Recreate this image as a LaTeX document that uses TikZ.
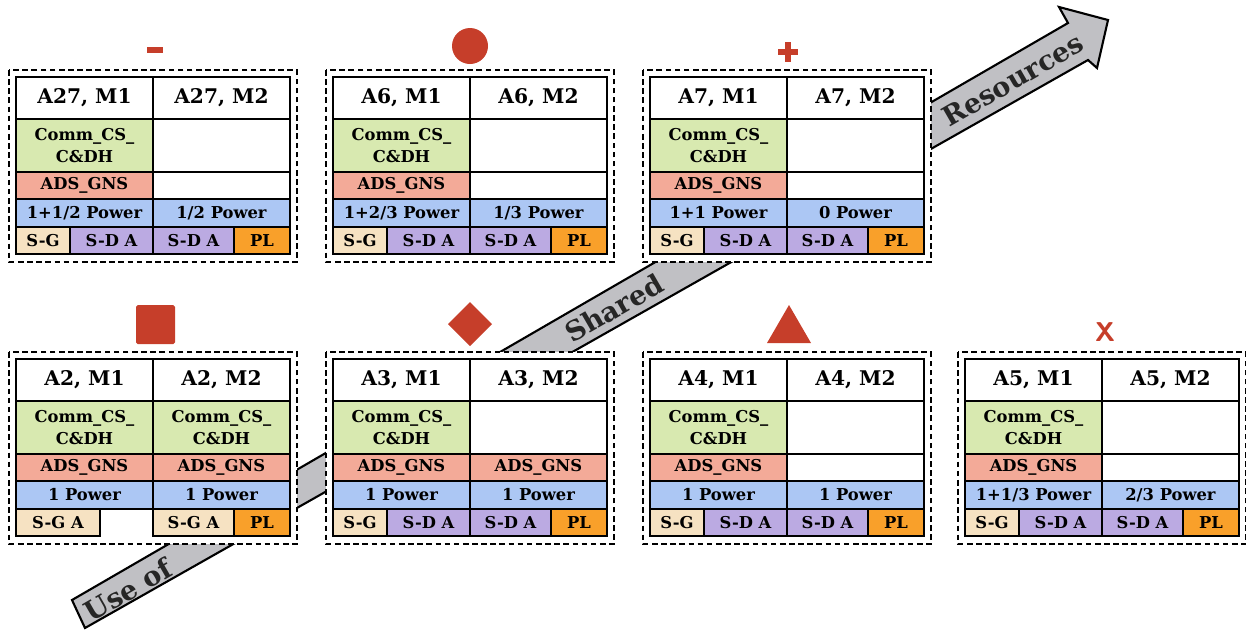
\documentclass[tikz,border=0pt]{standalone}
\usepackage{fontspec}
\setmainfont{DejaVu Serif}
\usetikzlibrary{positioning}

\definecolor{commgreen}{RGB}{216,233,176}
\definecolor{adsred}{RGB}{243,170,152}
\definecolor{pwrblue}{RGB}{172,199,244}
\definecolor{sgbeige}{RGB}{246,226,194}
\definecolor{sdapurple}{RGB}{187,170,226}
\definecolor{plorange}{RGB}{249,160,42}
\definecolor{symred}{RGB}{198,62,42}
\definecolor{arrowgray}{RGB}{192,192,196}

\begin{document}
\begin{tikzpicture}[x=0.02cm,y=-0.02cm,
       panel/.style={draw,fill=white,line width=0.9pt,dash pattern=on 3.2pt off 2pt},
       cell/.style={draw,line width=0.9pt,anchor=north west,outer sep=0pt,inner sep=0pt,
                    align=center,font=\bfseries\fontsize{9.3}{13}\selectfont},
       head/.style={cell,fill=white,minimum width=2.74cm,minimum height=0.84cm,
                    font=\bfseries\fontsize{11.5}{13}\selectfont},
       comm/.style={cell,fill=commgreen,minimum width=2.74cm,minimum height=1.06cm},
       blankc/.style={cell,fill=white,minimum width=2.74cm,minimum height=1.06cm},
       ads/.style={cell,fill=adsred,minimum width=2.74cm,minimum height=0.54cm},
       blank/.style={cell,fill=white,minimum width=2.74cm,minimum height=0.54cm},
       power/.style={cell,fill=pwrblue,minimum width=2.74cm,minimum height=0.56cm},
       sg/.style={cell,fill=sgbeige,minimum width=#1,minimum height=0.54cm},
       sg/.default=1.08cm,
       sda/.style={cell,fill=sdapurple,minimum width=#1,minimum height=0.54cm},
       pl/.style={cell,fill=plorange,minimum width=1.12cm,minimum height=0.54cm},
       label/.style={rotate=30,text=black!85,font=\bfseries\fontsize{15.5}{18}\selectfont}]
   \useasboundingbox (0,0) rectangle (1246,630);

   % the big arrow runs behind the panels
   \draw[line width=1.2pt,fill=arrowgray,line join=miter]
       (85,628) -- (72,600) -- (1068,23) -- (1059,7) -- (1108,20)
       -- (1097,68) -- (1088,60) -- cycle;
   \node[label] (useof) at (128,590) {Use of};
   \node[label] (shared) at (614,308) {Shared};
   \node[label] (res) at (1013,80) {Resources};

   % panels with an empty M2 side
   \foreach \px/\py/\id/\pa/\pb/\bstyle/\btext in {
       16/77/27/{1+1/2 Power}/{1/2 Power}/blank/{},
       333/77/6/{1+2/3 Power}/{1/3 Power}/blank/{},
       650/77/7/{1+1 Power}/{0 Power}/blank/{},
       333/359/3/{1 Power}/{1 Power}/ads/{ADS\_GNS},
       650/359/4/{1 Power}/{1 Power}/blank/{},
       965/359/5/{1+1/3 Power}/{2/3 Power}/blank/{}} {
     \draw[panel] (\px-7,\py-7) rectangle (\px+281,\py+185);
     \node[head] (h\id a) at (\px,\py) {A\id, M1};
     \node[head,right=0pt of h\id a] (h\id b) {A\id, M2};
     \node[comm,below=0pt of h\id a] (c\id a) {Comm\_CS\_\\C\&DH};
     \node[blankc,below=0pt of h\id b] (c\id b) {};
     \node[ads,below=0pt of c\id a] (d\id a) {ADS\_GNS};
     \node[\bstyle,below=0pt of c\id b] (d\id b) {\btext};
     \node[power,below=0pt of d\id a] (p\id a) {\pa};
     \node[power,below=0pt of d\id b] (p\id b) {\pb};
     \node[sg] (s\id a) at (p\id a.south west) {S-G};
     \node[sda=1.66cm] (t\id a) at (s\id a.north east) {S-D A};
     \node[sda=1.62cm] (t\id b) at (p\id b.south west) {S-D A};
     \node[pl] (l\id b) at (t\id b.north east) {PL};
   }

   % A2 panel
   \draw[panel] (9,352) rectangle (297,544);
   \node[head] (h2a) at (16,359) {A2, M1};
   \node[head,right=0pt of h2a] (h2b) {A2, M2};
   \node[comm,below=0pt of h2a] (c2a) {Comm\_CS\_\\C\&DH};
   \node[comm,below=0pt of h2b] (c2b) {Comm\_CS\_\\C\&DH};
   \node[ads,below=0pt of c2a] (d2a) {ADS\_GNS};
   \node[ads,below=0pt of c2b] (d2b) {ADS\_GNS};
   \node[power,below=0pt of d2a] (p2a) {1 Power};
   \node[power,below=0pt of d2b] (p2b) {1 Power};
   \node[sg=1.68cm] (s2a) at (p2a.south west) {S-G A};
   \node[sg=1.62cm] (s2b) at (p2b.south west) {S-G A};
   \node[pl] (l2b) at (s2b.north east) {PL};

   % markers
   \fill[symred] (147,47) rectangle (163,53);
   \fill[symred] (470,46) circle (18);
   \fill[symred] (778,49) rectangle (798,55);
   \fill[symred] (785,42) rectangle (791,62);
   \fill[symred,rounded corners=1pt] (136,305) rectangle (175,344);
   \fill[symred] (448,324) -- (470,302) -- (492,324) -- (470,346) -- cycle;
   \fill[symred] (767,343) -- (789,305) -- (811,343) -- cycle;
   \node[text=symred,font=\sffamily\bfseries\fontsize{15.5}{16}\selectfont] (mk5) at (1105,332) {X};
\end{tikzpicture}
\end{document}
